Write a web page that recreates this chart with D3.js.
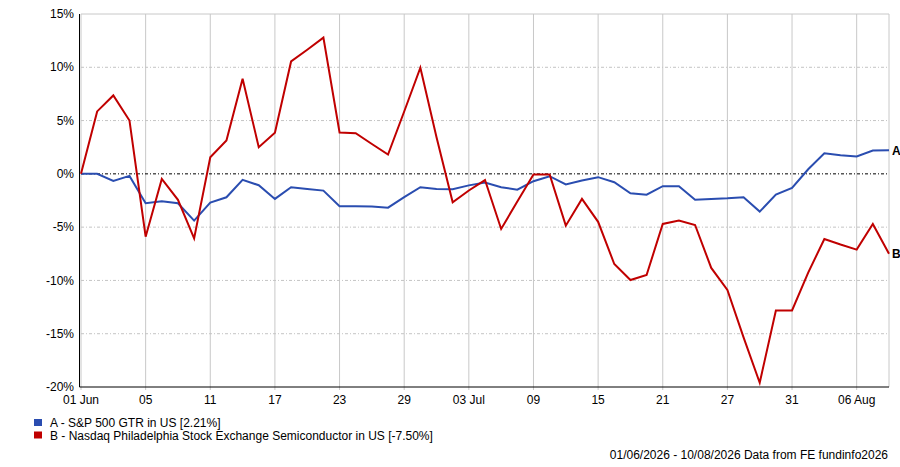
<!DOCTYPE html>
<html>
<head>
<meta charset="utf-8">
<script src="https://cdn.jsdelivr.net/npm/d3@7"></script>
<style>
  body { margin: 0; background: #fff; }
  text { font-family: "Liberation Sans", Arial, sans-serif; font-size: 12px; fill: #000; }
</style>
</head>
<body>
<script>
// weekdays, 01 Jun - 10 Aug 2026
const dates = [
  "2026-06-01","2026-06-02","2026-06-03","2026-06-04","2026-06-05",
  "2026-06-08","2026-06-09","2026-06-10","2026-06-11","2026-06-12",
  "2026-06-15","2026-06-16","2026-06-17","2026-06-18","2026-06-19",
  "2026-06-22","2026-06-23","2026-06-24","2026-06-25","2026-06-26",
  "2026-06-29","2026-06-30","2026-07-01","2026-07-02","2026-07-03",
  "2026-07-06","2026-07-07","2026-07-08","2026-07-09","2026-07-10",
  "2026-07-13","2026-07-14","2026-07-15","2026-07-16","2026-07-17",
  "2026-07-20","2026-07-21","2026-07-22","2026-07-23","2026-07-24",
  "2026-07-27","2026-07-28","2026-07-29","2026-07-30","2026-07-31",
  "2026-08-03","2026-08-04","2026-08-05","2026-08-06","2026-08-07",
  "2026-08-10"
]

// A - S&P 500 GTR in US (cumulative %)
const spx = [
  0, 0, -0.66, -0.19, -2.76,
  -2.57, -2.76, -4.39, -2.7, -2.2,
  -0.56, -1.07, -2.35, -1.26, -1.41,
  -1.57, -3.04, -3.04, -3.07, -3.17,
  -2.19, -1.25, -1.41, -1.44, -1.08,
  -0.82, -1.25, -1.48, -0.69, -0.22,
  -1.0, -0.63, -0.31, -0.79, -1.82,
  -1.95, -1.16, -1.16, -2.42, -2.35,
  -2.29, -2.19, -3.54, -1.95, -1.32,
  0.43, 1.94, 1.75, 1.63, 2.19,
  2.21
]

// B - Nasdaq Philadelphia Stock Exchange Semiconductor in US (cumulative %)
const sox = [
  0, 5.86, 7.36, 5.0, -5.9,
  -0.47, -2.44, -6.05, 1.56, 3.13,
  8.93, 2.5, 3.85, 10.55, 11.64,
  12.78, 3.88, 3.82, 2.8, 1.81,
  5.85, 9.96, 3.44, -2.67, -1.56,
  -0.58, -5.17, -2.59, -0.05, -0.05,
  -4.86, -2.35, -4.5, -8.46, -9.96,
  -9.49, -4.7, -4.39, -4.8, -8.83,
  -10.9, -15.34, -19.6, -12.82, -12.82,
  -9.27, -6.11, -6.63, -7.11, -4.7,
  -7.5
]

const tickDates = ["2026-06-01","2026-06-05","2026-06-11","2026-06-17","2026-06-23","2026-06-29",
                   "2026-07-03","2026-07-09","2026-07-15","2026-07-21","2026-07-27","2026-07-31","2026-08-06"]
const tickLabels = ["01 Jun","05","11","17","23","29","03 Jul","09","15","21","27","31","06 Aug"]
const yTicks = [15, 10, 5, 0, -5, -10, -15, -20]

const series = [
  {key: "A", name: "A - S&P 500 GTR in US [2.21%]", values: spx, color: "#2a4db0"},
  {key: "B", name: "B - Nasdaq Philadelphia Stock Exchange Semiconductor in US [-7.50%]", values: sox, color: "#c00000"}
]

const W = 900, H = 467
const plot = {left: 81, right: 889, top: 14, bottom: 387}

const x = d3.scalePoint().domain(dates).range([plot.left, plot.right])
const y = d3.scaleLinear().domain([-20, 15]).range([plot.bottom, plot.top])

const svg = d3.select("body").append("svg")
    .attr("width", W).attr("height", H)

// vertical grid
svg.append("g")
  .selectAll("line")
  .data(tickDates)
  .join("line")
    .attr("x1", d => x(d)).attr("x2", d => x(d))
    .attr("y1", plot.top).attr("y2", plot.bottom + 3)
    .attr("stroke", "#c8c8c8")

// horizontal grid (not zero)
svg.append("g")
  .selectAll("line")
  .data(yTicks.filter(v => v !== 0 && v !== 15 && v !== -20))
  .join("line")
    .attr("x1", plot.left).attr("x2", plot.right)
    .attr("y1", d => y(d)).attr("y2", d => y(d))
    .attr("stroke", "#c4c4c4")
    .attr("stroke-dasharray", "3,2,1,2")

// frame: top + right grey
svg.append("path")
    .attr("d", `M${plot.left},${y(15)}H${plot.right}V${plot.bottom}`)
    .attr("fill", "none").attr("stroke", "#c8c8c8")

// zero line
svg.append("line")
    .attr("x1", plot.left).attr("x2", plot.right)
    .attr("y1", y(0)).attr("y2", y(0))
    .attr("stroke", "#000")
    .attr("stroke-dasharray", "3,2,1,2")

// axes (black)
svg.append("path")
    .attr("d", `M${plot.left - 1.5},${plot.top}V${plot.bottom}H${plot.right}`)
    .attr("fill", "none").attr("stroke", "#000")

// series lines
const line = d3.line()
    .x((d, i) => x(dates[i]))
    .y(d => y(d))

svg.append("g")
  .selectAll("path")
  .data(series)
  .join("path")
    .attr("d", d => line(d.values))
    .attr("fill", "none")
    .attr("stroke", d => d.color)
    .attr("stroke-width", 2)
    .attr("stroke-linejoin", "miter")

// end labels A / B
svg.append("g")
  .selectAll("text")
  .data(series)
  .join("text")
    .attr("x", plot.right + 3)
    .attr("y", d => y(d.values[d.values.length - 1]))
    .attr("dy", "0.35em")
    .attr("font-weight", "bold")
    .text(d => d.key)

// y tick labels
svg.append("g")
  .selectAll("text")
  .data(yTicks)
  .join("text")
    .attr("x", plot.left - 7)
    .attr("y", d => y(d))
    .attr("dy", "0.35em")
    .attr("text-anchor", "end")
    .text(d => d + "%")

// x tick labels
svg.append("g")
  .selectAll("text")
  .data(tickDates)
  .join("text")
    .attr("x", d => x(d))
    .attr("y", plot.bottom + 8)
    .attr("dy", "0.71em")
    .attr("text-anchor", "middle")
    .text((d, i) => tickLabels[i])

// legend
const legend = svg.append("g")
  .selectAll("g")
  .data(series)
  .join("g")
    .attr("transform", (d, i) => `translate(34,${419 + i * 12.5})`)

legend.append("rect")
    .attr("width", 8).attr("height", 7)
    .attr("fill", d => d.color)

legend.append("text")
    .attr("x", 16)
    .attr("y", 4)
    .attr("dy", "0.35em")
    .text(d => d.name)

// footer
svg.append("text")
    .attr("x", 888)
    .attr("y", 455)
    .attr("dy", "0.35em")
    .attr("text-anchor", "end")
    .text("01/06/2026 - 10/08/2026 Data from FE fundinfo2026")
</script>
</body>
</html>
